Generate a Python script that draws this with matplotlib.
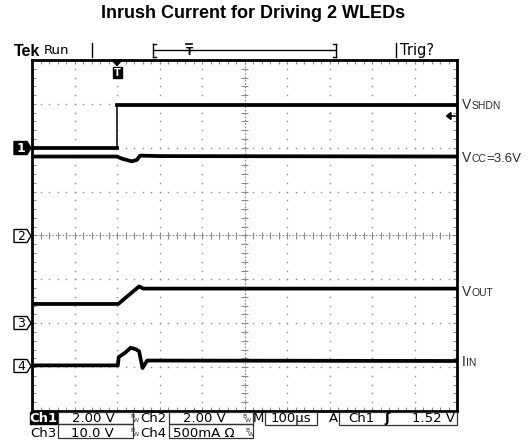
import matplotlib
matplotlib.use('Agg')
import matplotlib.pyplot as plt
import numpy as np
from matplotlib.patches import Rectangle, Polygon

# ---------------- data ----------------
# time in microseconds (100 us/div), values in channel units
t_shdn = [0, 199, 199, 1000]
v_shdn = [0.0, 0.0, 1.96, 1.96]            # Ch1, 2 V/div

t_vcc = [0, 200, 212, 235, 247, 254, 300, 1000]
v_vcc = [3.6, 3.6, 3.5, 3.38, 3.45, 3.64, 3.62, 3.6]   # Ch2, 2 V/div

t_vout = [0, 203, 252, 262, 1000]
v_vout = [4.2, 4.2, 8.2, 7.7, 7.7]         # Ch3, 10 V/div

t_iin = [0, 202, 204, 218, 232, 244, 252, 260, 271, 1000]
i_iin = [0, 0, 95, 140, 200, 185, 160, -30, 55, 50]   # Ch4, mA, 500 mA/div

ch_offset = {'1': 2.0, '2': 0.0, '3': -1.98, '4': -2.96}   # divisions
ch_scale = {'1': 2.0, '2': 2.0, '3': 10.0, '4': 500.0}

title = "Inrush Current for Driving 2 WLEDs"
status_row1 = ["Ch1", "2.00 V", "Ch2", "2.00 V", "M", "100\u00b5s", "A", "Ch1", "1.52 V"]
status_row2 = ["Ch3", "10.0 V", "Ch4", "500mA \u03a9"]

# ---------------- figure ----------------
W, H = 531, 448
fig = plt.figure(figsize=(W / 100, H / 100), dpi=100)
fig.patch.set_facecolor('white')

L, R, T, B = 32, 457, 60, 411
ax = fig.add_axes([L / W, 1 - B / H, (R - L) / W, (B - T) / H])
ax.set_xlim(0, 1000)
ax.set_ylim(-4, 4)
ax.set_xticks([])
ax.set_yticks([])
for s in ax.spines.values():
    s.set_linewidth(2.0)
    s.set_color('black')

gcol = '#8a8a8a'
# dotted graticule
ydots = np.arange(-4, 4.001, 0.2)
xdots = np.arange(0, 1000.1, 20)
for k in range(1, 10):
    if k == 5:
        continue
    ax.plot([k * 100] * len(ydots), ydots, ls='none', marker='s', ms=1.0,
            mew=0, color=gcol, zorder=1)
for j in range(-3, 4):
    if j == 0:
        continue
    ax.plot(xdots, [j] * len(xdots), ls='none', marker='s', ms=1.0,
            mew=0, color=gcol, zorder=1)
# center cross
ax.axvline(500, ls=(0, (1.5, 1.5)), color=gcol, lw=0.8, zorder=1)
ax.axhline(0, ls=(0, (1.5, 1.5)), color=gcol, lw=0.8, zorder=1)
ax.vlines(xdots, -0.07, 0.07, color=gcol, lw=0.8, zorder=1)
ax.hlines(ydots, 492, 508, color=gcol, lw=0.8, zorder=1)
# edge ticks
ax.vlines(xdots, -4, -3.9, color=gcol, lw=0.8, zorder=1)
ax.vlines(xdots, 3.9, 4, color=gcol, lw=0.8, zorder=1)
ax.hlines(ydots, 0, 9, color=gcol, lw=0.8, zorder=1)
ax.hlines(ydots, 991, 1000, color=gcol, lw=0.8, zorder=1)

# traces
def div(ch, vals):
    return [ch_offset[ch] + v / ch_scale[ch] for v in vals]

lw = 2.7
ys = div('1', v_shdn)
ax.plot(t_shdn[:2], ys[:2], color='black', lw=lw, zorder=3)
ax.plot(t_shdn[2:], ys[2:], color='black', lw=lw, zorder=3)
ax.plot(t_shdn[1:3], ys[1:3], color='black', lw=1.1, zorder=3)
ax.plot(t_vcc, div('2', v_vcc), color='black', lw=lw, zorder=3)
ax.plot(t_vout, div('3', v_vout), color='black', lw=lw, zorder=3)
ax.plot(t_iin, div('4', i_iin), color='black', lw=lw, zorder=3)

# ---------------- overlays in pixel coordinates ----------------
ov = fig.add_axes([0, 0, 1, 1], facecolor='none')
ov.set_xlim(0, W)
ov.set_ylim(H, 0)
ov.axis('off')

sans = 'Liberation Sans'
mono = 'DejaVu Sans'

ov.text(253, 14, title, fontsize=13, fontweight='bold', family=sans,
        ha='center', va='center')

# top status line
ov.text(14, 51, "Tek", fontsize=11.5, fontweight='bold', family=sans, ha='left', va='center')
ov.text(44, 50, "Run", fontsize=9.5, family=mono, ha='left', va='center')
ov.plot([92, 92], [43, 57], color='black', lw=1.0)
ov.plot([153, 336], [50.5, 50.5], color='black', lw=1.0)
ov.plot([153, 153], [44, 57], color='black', lw=1.0)
ov.plot([153, 156], [44, 44], color='black', lw=1.0)
ov.plot([153, 156], [57, 57], color='black', lw=1.0)
ov.plot([336, 336], [44, 57], color='black', lw=1.0)
ov.plot([333, 336], [44, 44], color='black', lw=1.0)
ov.plot([333, 336], [57, 57], color='black', lw=1.0)
ov.plot([186, 192], [44.5, 44.5], color='black', lw=1.2)
ov.text(189, 52, "T", fontsize=7.5, fontweight='bold', family=mono, ha='center', va='center')
ov.plot([396, 396], [43, 57], color='black', lw=1.0)
ov.text(400, 50, "Trig?", fontsize=10.5, family=mono, ha='left', va='center')

# trigger position marker
ov.add_patch(Polygon([[112, 60], [122, 60], [117, 65.5]], closed=True, color='black'))
ov.add_patch(Rectangle((112.5, 67), 9, 11, color='black'))
ov.text(117, 72.5, "T", fontsize=7, fontweight='bold', color='white', family=mono,
        ha='center', va='center')

# trigger level arrow at right edge
ov.add_patch(Polygon([[446.5, 116], [451, 112.5], [451, 119.5]], closed=True, color='black'))
ov.plot([450, 455], [116, 116], color='black', lw=1.2)

# channel ground markers
def ch_marker(label, y, inverted):
    fc = 'black' if inverted else 'white'
    tc = 'white' if inverted else 'black'
    ov.add_patch(Polygon([[14, y - 6.5], [27, y - 6.5], [31, y], [27, y + 6.5], [14, y + 6.5]],
                         closed=True, facecolor=fc, edgecolor='black', lw=1.0))
    ov.text(21, y + 0.5, label, fontsize=9, fontweight='bold' if inverted else 'normal',
            color=tc, family=mono, ha='center', va='center')

ch_marker('1', 148, True)
ch_marker('2', 236, False)
ch_marker('3', 323, False)
ch_marker('4', 366, False)

# right side labels with small caps
fig.canvas.draw()
rend = fig.canvas.get_renderer()

def sc_label(x, y, parts):
    cx = x
    for txt, size in parts:
        t = ov.text(cx, y, txt, fontsize=size, family=sans, color='#2a2a2a',
                    ha='left', va='baseline')
        bb = t.get_window_extent(renderer=rend)
        cx += bb.width

sc_label(462, 109, [("V", 10), ("SHDN", 7.5)])
sc_label(462, 162, [("V", 10), ("CC", 7.5), ("=3.6V", 9.5)])
sc_label(462, 295.5, [("V", 10), ("OUT", 7.5)])
sc_label(462, 366.5, [("I", 10), ("IN", 7.5)])

# bottom status bar
r1, r2 = 418.5, 433.5
fs = 9.5
ov.add_patch(Rectangle((30, 412), 27, 12, color='black'))
ov.text(43.5, r1, status_row1[0], fontsize=fs, fontweight='bold', color='white',
        family=mono, ha='center', va='center')
ov.text(43.5, r2, status_row2[0], fontsize=fs, family=mono, ha='center', va='center')

def box(x0, x1, y0, y1):
    ov.add_patch(Rectangle((x0, y0), x1 - x0, y1 - y0, fill=False, edgecolor='#333333', lw=0.9))

def bw(x, y):
    ov.text(x, y - 2.5, "B", fontsize=4.5, family=mono, ha='left', va='center', color='#333')
    ov.text(x + 2.5, y + 1.5, "W", fontsize=4.5, family=mono, ha='left', va='center', color='#333')

box(58, 133, 412, 424.5)
box(58, 133, 424.5, 438)
ov.text(93, r1, status_row1[1], fontsize=fs, family=mono, ha='center', va='center')
ov.text(92, r2, status_row2[1], fontsize=fs, family=mono, ha='center', va='center')
bw(130, r1)
bw(130, r2)
ov.text(153.5, r1, status_row1[2], fontsize=fs, family=mono, ha='center', va='center')
ov.text(153.5, r2, status_row2[2], fontsize=fs, family=mono, ha='center', va='center')
box(169, 253, 412, 424.5)
box(169, 253, 424.5, 438)
ov.text(204, r1, status_row1[3], fontsize=fs, family=mono, ha='center', va='center')
ov.text(204, r2, status_row2[3], fontsize=fs, family=mono, ha='center', va='center')
bw(242, r1)
bw(245, r2)
ov.text(258, r1, status_row1[4], fontsize=fs, family=mono, ha='center', va='center')
box(265, 317, 412, 425)
ov.text(291, r1, status_row1[5], fontsize=fs, family=mono, ha='center', va='center')
ov.text(333, r1, status_row1[6], fontsize=fs, family=mono, ha='center', va='center')
box(339, 457, 412, 425)
ov.text(348, r1, status_row1[7], fontsize=fs, family=mono, ha='left', va='center')
ov.text(387, r1, "\u0283", fontsize=fs, fontweight='bold', family=mono, ha='center', va='center')
ov.text(455, r1, status_row1[8], fontsize=fs, family=mono, ha='right', va='center')

fig.savefig('out.png', dpi=100, facecolor='white')
